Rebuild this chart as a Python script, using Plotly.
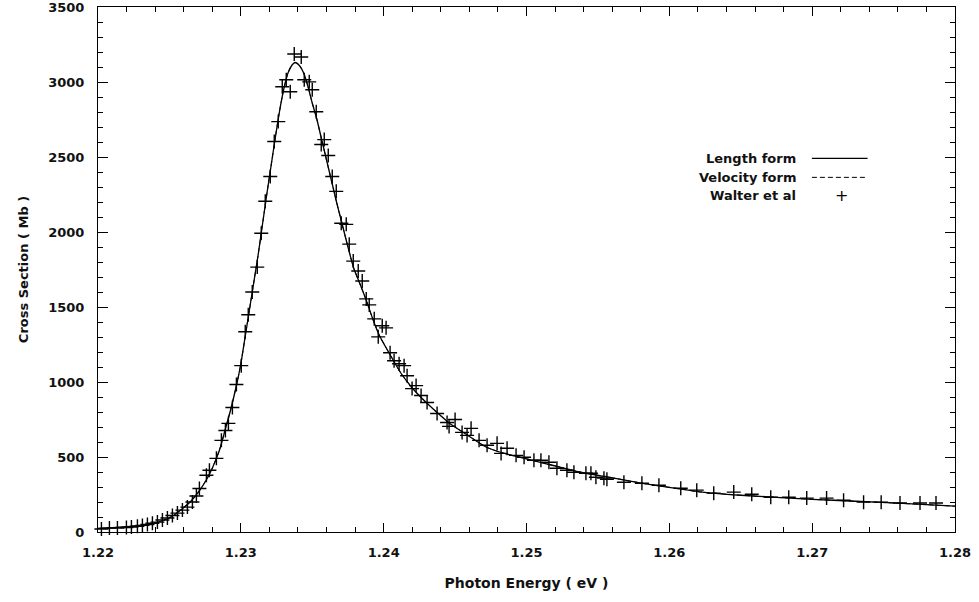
import plotly.graph_objects as go

# ---- Data ----
# Theory curve (Length form)
length_x = [1.2200, 1.2210, 1.2220, 1.2230, 1.2236, 1.2245, 1.2252, 1.2259, 1.2265, 1.2271,
            1.2276, 1.2280, 1.2285, 1.2289, 1.2293, 1.2297, 1.2300, 1.2303, 1.2306, 1.2309,
            1.2312, 1.2315, 1.2318, 1.2321, 1.2324, 1.2327, 1.2330, 1.2333, 1.2336, 1.2338,
            1.2341, 1.2344, 1.2347, 1.2350, 1.2353, 1.2357, 1.2360, 1.2364, 1.2367, 1.2371,
            1.2375, 1.2379, 1.2384, 1.2388, 1.2392, 1.2397, 1.2404, 1.2412, 1.2420, 1.2428,
            1.2437, 1.2446, 1.2458, 1.2472, 1.2486, 1.2500, 1.2518, 1.2537, 1.2555, 1.2579,
            1.2607, 1.2621, 1.2650, 1.2700, 1.2730, 1.2760, 1.2800]
length_y = [24, 29, 35, 44, 50, 75, 105, 155, 205, 275,
            350, 425, 545, 680, 820, 980, 1120, 1300, 1480, 1660,
            1840, 2040, 2240, 2430, 2620, 2800, 2950, 3060, 3115, 3130,
            3110, 3060, 2970, 2860, 2760, 2600, 2480, 2320, 2200, 2050,
            1900, 1760, 1640, 1540, 1430, 1310, 1190, 1060, 960, 880,
            800, 725, 650, 565, 520, 488, 445, 400, 370, 328,
            288, 268, 245, 218, 205, 192, 172]

# Theory curve (Velocity form) - visually coincides with the length form
velocity_x = [1.2200, 1.2210, 1.2220, 1.2230, 1.2236, 1.2245, 1.2252, 1.2259, 1.2265, 1.2271,
              1.2276, 1.2280, 1.2285, 1.2289, 1.2293, 1.2297, 1.2300, 1.2303, 1.2306, 1.2309,
              1.2312, 1.2315, 1.2318, 1.2321, 1.2324, 1.2327, 1.2330, 1.2333, 1.2336, 1.2338,
              1.2341, 1.2344, 1.2347, 1.2350, 1.2353, 1.2357, 1.2360, 1.2364, 1.2367, 1.2371,
              1.2375, 1.2379, 1.2384, 1.2388, 1.2392, 1.2397, 1.2404, 1.2412, 1.2420, 1.2428,
              1.2437, 1.2446, 1.2458, 1.2472, 1.2486, 1.2500, 1.2518, 1.2537, 1.2555, 1.2579,
              1.2607, 1.2621, 1.2650, 1.2700, 1.2730, 1.2760, 1.2800]
velocity_y = [24, 29, 35, 44, 50, 75, 105, 155, 205, 275,
              350, 425, 545, 680, 820, 980, 1120, 1300, 1480, 1660,
              1840, 2040, 2240, 2430, 2620, 2800, 2950, 3060, 3115, 3130,
              3110, 3060, 2970, 2860, 2760, 2600, 2480, 2320, 2200, 2050,
              1900, 1760, 1640, 1540, 1430, 1310, 1190, 1060, 960, 880,
              800, 725, 650, 565, 520, 488, 445, 400, 370, 328,
              288, 268, 245, 218, 205, 192, 172]

# Experiment (Walter et al)
walter_x = [1.22024, 1.22080, 1.22136, 1.22199, 1.22234, 1.22276, 1.22311, 1.22346, 1.22381, 1.22416,
            1.22451, 1.22486, 1.22521, 1.22556, 1.22591, 1.22626, 1.22661, 1.22689, 1.22710, 1.22759,
            1.22780, 1.22829, 1.22864, 1.22892, 1.22913, 1.22941, 1.22969, 1.23003, 1.23031, 1.23052,
            1.23080, 1.23115, 1.23143, 1.23171, 1.23206, 1.23234, 1.23262, 1.23290, 1.23318, 1.23346,
            1.23374, 1.23423, 1.23444, 1.23479, 1.23500, 1.23528, 1.23563, 1.23584, 1.23612, 1.23640,
            1.23668, 1.23703, 1.23738, 1.23759, 1.23787, 1.23822, 1.23850, 1.23878, 1.23899, 1.23934,
            1.23962, 1.23990, 1.24017, 1.24045, 1.24073, 1.24108, 1.24143, 1.24164, 1.24199, 1.24227,
            1.24262, 1.24304, 1.24374, 1.24444, 1.24458, 1.24500, 1.24549, 1.24584, 1.24612, 1.24668,
            1.24724, 1.24794, 1.24822, 1.24864, 1.24927, 1.24983, 1.25052, 1.25101, 1.25157, 1.25213,
            1.25283, 1.25332, 1.25416, 1.25451, 1.25486, 1.25542, 1.25563, 1.25682, 1.25808, 1.25927,
            1.26080, 1.26192, 1.26311, 1.26451, 1.26577, 1.26710, 1.26836, 1.26962, 1.27101, 1.27220,
            1.27360, 1.27483, 1.27615, 1.27755, 1.27867]
walter_y = [20, 26, 26, 30, 33, 38, 44, 50, 58, 66,
            80, 93, 110, 126, 146, 166, 200, 240, 290, 378,
            412, 491, 611, 677, 724, 830, 983, 1109, 1335, 1448,
            1600, 1766, 1992, 2205, 2370, 2603, 2736, 2968, 3015, 2935,
            3187, 3167, 3015, 3001, 2948, 2802, 2583, 2616, 2510, 2370,
            2271, 2058, 2051, 1919, 1806, 1740, 1673, 1554, 1514, 1421,
            1301, 1375, 1361, 1195, 1142, 1122, 1109, 1042, 956, 976,
            910, 863, 790, 730, 704, 750, 664, 644, 691, 611,
            578, 591, 524, 558, 511, 498, 478, 478, 465, 425,
            412, 398, 392, 392, 365, 359, 352, 332, 325, 312,
            292, 279, 259, 266, 252, 232, 232, 226, 226, 212,
            199, 199, 193, 193, 193]

x_tickvals = [1.22, 1.23, 1.24, 1.25, 1.26, 1.27, 1.28]
x_ticktext = ["1.22", "1.23", "1.24", "1.25", "1.26", "1.27", "1.28"]
y_tickvals = [0, 500, 1000, 1500, 2000, 2500, 3000, 3500]
y_ticktext = ["0", "500", "1000", "1500", "2000", "2500", "3000", "3500"]

legend_labels = ["Length form", "Velocity form", "Walter et al"]

FONT = "DejaVu Sans"
INK = "#111111"

fig = go.Figure()
fig.add_trace(go.Scatter(x=length_x, y=length_y, mode="lines", name=legend_labels[0],
                         line=dict(color="black", width=1.3, shape="spline", smoothing=0.6)))
fig.add_trace(go.Scatter(x=velocity_x, y=velocity_y, mode="lines", name=legend_labels[1],
                         line=dict(color="black", width=1.0, dash="5px,3px", shape="spline", smoothing=0.6)))
fig.add_trace(go.Scatter(x=walter_x, y=walter_y, mode="markers", name=legend_labels[2],
                         marker=dict(symbol="cross-thin", size=10, color="black",
                                     line=dict(color="black", width=1.4)),
                         cliponaxis=False))

axis_common = dict(
    showline=True, linecolor="black", linewidth=1, mirror="allticks",
    ticks="inside", tickcolor="black", showgrid=False, zeroline=False,
    automargin=False, ticklabeloverflow="allow",
    tickfont=dict(family=FONT, size=13, color=INK, weight="bold"),
)

fig.update_xaxes(
    range=[1.22, 1.28], tickmode="array", tickvals=x_tickvals, ticktext=x_ticktext,
    ticklen=9, tickwidth=1, ticklabelstandoff=8,
    minor=dict(ticks="inside", ticklen=5, dtick=0.002, tick0=1.22, tickcolor="black", showgrid=False),
    title=dict(text="Photon Energy ( eV )",
               font=dict(family=FONT, size=14, color=INK, weight="bold"), standoff=19),
    **axis_common,
)
fig.update_yaxes(
    range=[0, 3500], tickmode="array", tickvals=y_tickvals, ticktext=y_ticktext,
    ticklen=10, tickwidth=1, ticklabelstandoff=10,
    minor=dict(ticks="inside", ticklen=5, dtick=100, tick0=0, tickcolor="black", showgrid=False),
    title=dict(text="Cross Section ( Mb )",
               font=dict(family=FONT, size=13, color=INK, weight="bold"), standoff=16),
    **axis_common,
)

# Custom legend (text right-aligned, sample to the right)
rows_y = [0.7116, 0.6755, 0.6414]
text_x = 0.817
for lab, yy in zip(legend_labels, rows_y):
    fig.add_annotation(x=text_x, y=yy, xref="paper", yref="paper", text=lab, showarrow=False,
                       xanchor="right", yanchor="middle",
                       font=dict(family=FONT, size=13, color=INK, weight="bold"))
fig.add_shape(type="line", xref="paper", yref="paper", x0=0.833, x1=0.898,
              y0=rows_y[0], y1=rows_y[0], line=dict(color="black", width=1.3))
fig.add_shape(type="line", xref="paper", yref="paper", x0=0.833, x1=0.898,
              y0=rows_y[1], y1=rows_y[1], line=dict(color="black", width=1.0, dash="5px,3px"))
fig.add_annotation(x=0.867, y=rows_y[2], xref="paper", yref="paper", text="+", showarrow=False,
                   xanchor="center", yanchor="middle", font=dict(family=FONT, size=16, color="black"))

fig.update_layout(
    width=979, height=602, showlegend=False,
    paper_bgcolor="white", plot_bgcolor="white",
    margin=dict(l=98, r=24, t=7, b=70, autoexpand=False),
    font=dict(family=FONT, color=INK),
)

fig.write_html("out.html", config={"displayModeBar": False},
               post_script="document.body.style.margin='0';document.body.style.overflow='hidden';")
